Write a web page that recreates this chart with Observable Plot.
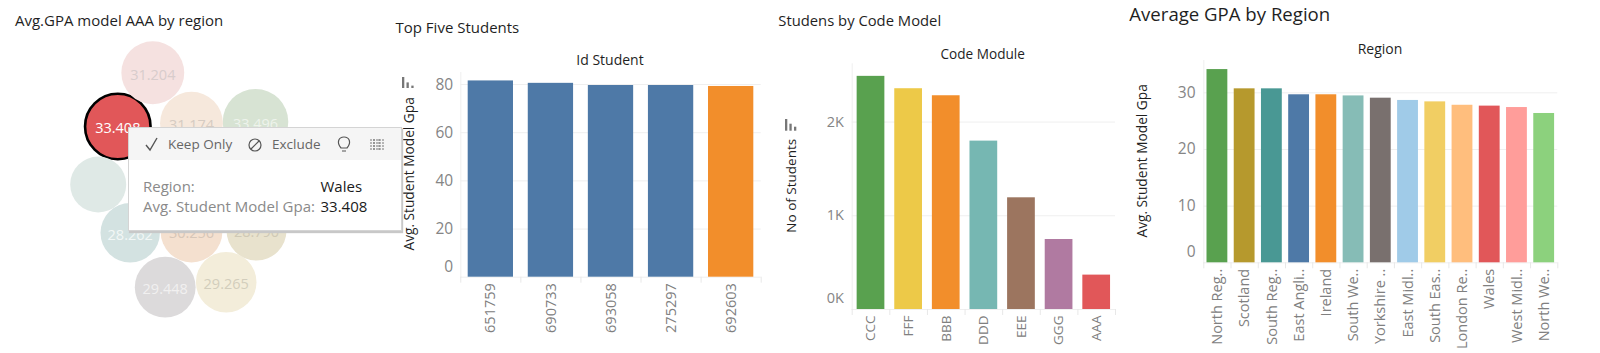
<!DOCTYPE html>
<html><head><meta charset="utf-8">
<script src="https://cdn.jsdelivr.net/npm/d3@7"></script>
<script src="https://cdn.jsdelivr.net/npm/@observablehq/plot@0.6"></script>
<style>
html,body{margin:0;padding:0;background:#fff}
#root{position:relative;width:1600px;height:353px;overflow:hidden;font-family:"Open Sans",sans-serif}
#root>svg,#root>.p{position:absolute}
.t{position:absolute;white-space:nowrap;color:#1f1f1f;line-height:1}
</style></head><body><div id="root"></div>
<script>
const bubbleValues=[31.204,33.408,31.174,33.496,25.4,28.262,30.256,28.79,29.448,29.265];
const bubbleLabels=["31.204","33.408","31.174","33.496","","28.262","30.256","28.790","29.448","29.265"];
const bubbleAcross=[152.3,117.3,191,255,97.7,129.7,191,256,164.7,225.7];
const bubbleDown=[72.3,126,122.7,121.3,184,232.3,231,230,286.7,281.7];
const bubbleColors=["#f5e1e0","#e15759","#f6e8dc","#d7e3d3","#dfe9e6","#d3e2e1","#f4e0cf","#e8e2cd","#dcdadb","#f3edda"];
const bubbleInk=["#d8cccc","#ffffff","#d5cbc2","#eef3ec","#ffffff","#f2f7f6","#d6c6b8","#cfc9b5","#f1f0f0","#d2cdbc"];

const studentIds=["651759","690733","693058","275297","692603"];
const studentGpa=[81.5,80.5,79.6,79.6,79.2];
const studentColors=["#4e79a7","#4e79a7","#4e79a7","#4e79a7","#f28e2b"];

const modules=["CCC","FFF","BBB","DDD","EEE","GGG","AAA"];
const moduleStudents=[2488,2356,2281,1797,1192,747,367];
const moduleColors=["#59a14f","#edc948","#f28e2b","#76b7b2","#9c755f","#b07aa1","#e15759"];

const regions=["North Reg..","Scotland","South Reg..","East Angli..","Ireland","South We..","Yorkshire ..","East Midl..","South Eas..","London Re..","Wales","West Midl..","North We.."];
const regionGpa=[34.1,30.7,30.7,29.65,29.65,29.45,29.05,28.65,28.4,27.8,27.65,27.4,26.35];
const regionColors=["#59a14f","#b6992d","#499894","#4e79a7","#f28e2b","#86bcb6","#79706e","#a0cbe8","#f1ce63","#ffbe7d","#e15759","#ff9d9a","#8cd17d"];

const root=document.getElementById("root");
const FONT='"Open Sans",sans-serif';
function place(el,l,t){el.style.left=l+"px";el.style.top=t+"px";el.style.position="absolute";root.appendChild(el);}
function text(s,l,cy,size,cls){const d=document.createElement("div");d.className="t "+(cls||"");d.textContent=s;d.style.left=l+"px";d.style.top=(cy-size/2)+"px";d.style.fontSize=size+"px";root.appendChild(d);return d;}

// Panel 1: packed bubbles
const idx=d3.range(bubbleValues.length);
place(Plot.plot({
  width:400,height:353,margin:0,
  style:{background:"transparent",fontFamily:FONT},
  x:{domain:[0,400],axis:null},y:{domain:[0,353],reverse:true,axis:null},
  r:{type:"linear",domain:[28.262,33.496],range:[29.7,32.8],clamp:false},
  marks:[
    Plot.dot(idx,{x:i=>bubbleAcross[i],y:i=>bubbleDown[i],r:i=>bubbleValues[i],fill:i=>bubbleColors[i],
      stroke:i=>i===1?"#000":"none",strokeWidth:2.6}),
    Plot.text(idx,{x:i=>bubbleAcross[i],y:i=>bubbleDown[i],text:i=>bubbleLabels[i],fill:i=>bubbleInk[i],fontSize:14.5,dy:2.2})
  ]
}),0,0);

function bars(o){
  const gridTicks=o.ticks.filter(t=>t!==0);
  const last=o.cats[o.cats.length-1];
  const plot=Plot.plot({
    width:o.w,height:353,
    marginLeft:o.ml,marginRight:o.mr,marginTop:o.mt,marginBottom:o.mb,
    style:{background:"transparent",fontFamily:FONT,fontSize:o.tickSize+"px"},
    x:{type:"band",domain:o.cats,paddingInner:o.pad,paddingOuter:o.pad/2,round:false,label:null},
    y:{domain:[0,o.top],label:null},
    marks:[
      Plot.gridY(gridTicks,{stroke:"#efefef",strokeOpacity:1}),
      Plot.ruleY([0],{stroke:"#efefef"}),
      Plot.frame({anchor:"left",stroke:"#efefef"}),
      Plot.barY(o.cats.map((c,i)=>i),{x:i=>o.cats[i],y:i=>o.vals[i],fill:i=>o.colors[i]}),
      Plot.axisX({tickSize:o.tick,stroke:"#e8e8e8",dx:-o.step/2,text:null}),
      Plot.axisX([last],{tickSize:o.tick,stroke:"#e8e8e8",dx:o.step/2,text:null}),
      Plot.axisX({tickSize:0,tickPadding:o.xpad,tickRotate:-90,fill:"#808080",fontSize:o.xSize}),
      Plot.axisY(gridTicks,{tickSize:0,tickPadding:o.ypad,fill:"#858585",fontSize:o.tickSize,tickFormat:o.fmt,label:null}),
      Plot.axisY([0],{tickSize:0,tickPadding:o.ypad,fill:"#858585",fontSize:o.tickSize,tickFormat:o.fmt,dy:-o.zeroUp,label:null})
    ]
  });
  place(plot,o.l,0);
}

// Panel 2
bars({l:380,w:390,ml:80.3,mr:9.3,mt:72,mb:76.3,cats:studentIds,vals:studentGpa,colors:studentColors,
  top:85,pad:0.246,ticks:[0,20,40,60,80],step:60.1,tick:6,xpad:6,ypad:7.6,tickSize:15.5,xSize:14.5,zeroUp:10.5});
// Panel 3
bars({l:760,w:365,ml:91.7,mr:10,mt:63.3,mb:44,cats:modules,vals:moduleStudents,colors:moduleColors,
  top:2622,pad:0.263,ticks:[0,1000,2000],step:37.6,tick:6,xpad:6,ypad:8.4,tickSize:14.5,xSize:13.5,zeroUp:11,fmt:d=>(d/1000)+"K"});
// Panel 4
bars({l:1120,w:480,ml:83.3,mr:42.7,mt:60,mb:90.7,cats:regions,vals:regionGpa,colors:regionColors,
  top:35.7,pad:0.235,ticks:[0,10,20,30],step:27.23,tick:6,xpad:6,ypad:8.3,tickSize:15.5,xSize:14.5,zeroUp:10.5});

// Titles
text("Avg.GPA model AAA by region",15,20.5,15);
text("Top Five Students",395.5,27.7,15);
text("Studens by Code Model",778.3,20.7,14.8);
text("Average GPA by Region",1129.3,14.7,18.6);
// Axis titles
function centered(s,cx,cy,size,rot){const d=text(s,cx,cy,size);d.style.transform=rot?"translate(-50%,0) rotate(-90deg)":"translate(-50%,0)";d.style.transformOrigin="50% 50%";return d;}
centered("Id Student",610,60,14);
centered("Code Module",982.7,53.3,13.6);
centered("Region",1380,49.3,14);
centered("Avg. Student Model Gpa",409,174,13.7,true);
centered("No of Students",791.7,186,13.5,true);
centered("Avg. Student Model Gpa",1142.3,160.5,13.7,true);

// Sort glyphs
function glyph(html,l,t,w,h){const d=document.createElement("div");d.innerHTML=`<svg width="${w}" height="${h}" style="display:block">${html}</svg>`;place(d,l,t);}
glyph(`<g fill="#777"><rect x="0" y="0" width="2.3" height="11"/><rect x="4.5" y="5.4" width="2.3" height="5.6"/><rect x="9.3" y="8.6" width="2.3" height="2.4"/></g>`,401.7,77.3,12,12);
glyph(`<g fill="#777"><rect x="0" y="0" width="2.3" height="11.7"/><rect x="4.4" y="4.7" width="2.3" height="7"/><rect x="9" y="7.7" width="2.3" height="4"/></g>`,785,119.3,12,12);

// Tooltip
const tip=document.createElement("div");
tip.style.cssText="position:absolute;left:127.5px;top:127px;width:272px;height:102px;background:#fff;border:1px solid #d4d4d4;box-shadow:1px 2px 1px #c8c8c8;z-index:5;font-family:"+FONT;
tip.innerHTML=`
<div style="position:absolute;left:0;top:0;right:0;height:32px;background:#f5f5f5"></div>
<svg style="position:absolute;left:0;top:0" width="272" height="32" fill="none" stroke="#555" stroke-width="1.2">
<path d="M17 17 l4 5 l7 -12" stroke-width="1.4"/>
<circle cx="126" cy="17" r="6"/><path d="M122 21 l8 -8"/>
<path d="M212 20 c-5 -6 -2 -11 3 -11 s8 5 3 11 z M213 23 h4"/>
<g stroke="#777" stroke-width="1"><path d="M241 12 h14 M241 15 h14 M241 18 h14 M241 21 h14 M245 11 v11 M250 11 v11" stroke-dasharray="2 1"/></g>
</svg>`;
root.appendChild(tip);
function tipText(s,l,cy,size,color){const d=document.createElement("div");d.className="t";d.textContent=s;d.style.cssText+=`left:${l-127.5}px;top:${cy-127-size/2}px;font-size:${size}px;color:${color}`;tip.appendChild(d);}
tipText("Keep Only",167,144,13.5,"#666");
tipText("Exclude",271,144,13.5,"#666");
tipText("Region:",142,185,15,"#8a8a8a");
tipText("Avg. Student Model Gpa:",142,205,15,"#8a8a8a");
tipText("Wales",319.5,185,15,"#1a1a1a");
tipText("33.408",319.5,205,15,"#1a1a1a");
</script></body></html>
